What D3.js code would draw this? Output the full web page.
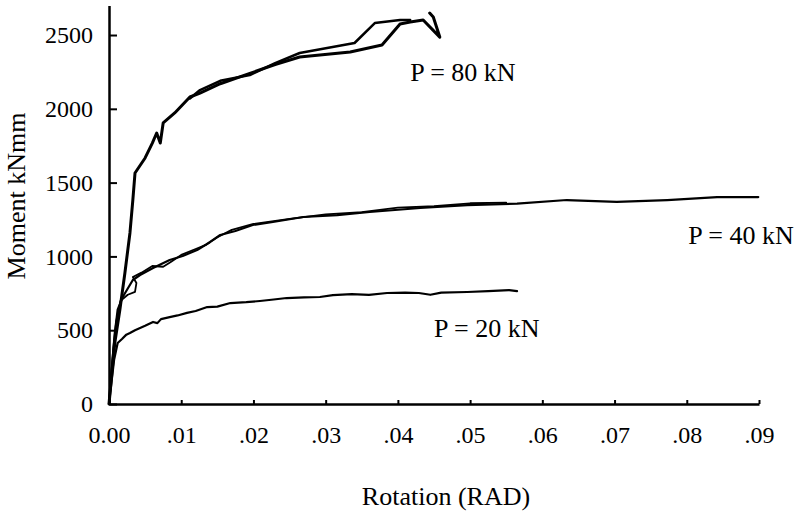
<!doctype html>
<html>
<head>
<style>
  body { margin: 0; background: #fff; }
  text { font-family: "Liberation Serif", "Times New Roman", serif; fill: #000; }
  .axis path, .axis line { stroke: #000; fill: none; }
  .axis path { stroke-width: 2.5; }
  .axis line { stroke-width: 2; }
  .curve { fill: none; stroke: #000; stroke-linejoin: round; stroke-linecap: round; }
</style>
<script src="https://d3js.org/d3.v7.min.js"></script>
</head>
<body>
<svg width="801" height="517"></svg>
<script>
// rotation (rad) / moment (kNmm)
var rot80a = [0, 0.0004, 0.0008, 0.0015, 0.0022, 0.0029, 0.0033, 0.0036, 0.005, 0.006, 0.0066, 0.0071, 0.0075, 0.0091, 0.0112, 0.0126, 0.0154, 0.0195, 0.023, 0.0264, 0.0334, 0.0378, 0.0403, 0.0417, 0.0435, 0.0458, 0.0449, 0.0444];
var mom80a = [0, 210, 413, 637, 888, 1159, 1382, 1565, 1667, 1768, 1836, 1768, 1904, 1972, 2080, 2107, 2170, 2240, 2300, 2351, 2385, 2432, 2575, 2588, 2602, 2486, 2622, 2649];
var rot80b = [0.0112, 0.0126, 0.0154, 0.0195, 0.023, 0.0264, 0.034, 0.0368, 0.0403, 0.0417];
var mom80b = [2070, 2127, 2190, 2229, 2310, 2378, 2446, 2581, 2602, 2602];

var rot40a = [0, 0.0004, 0.0008, 0.0012, 0.0019, 0.0033, 0.0043, 0.0061, 0.0084, 0.0102, 0.0122, 0.014, 0.0154, 0.0175, 0.0199, 0.0227, 0.0269, 0.0316, 0.0361, 0.0431, 0.0496, 0.0565, 0.0634, 0.0703, 0.0773, 0.0842, 0.0899];
var mom40a = [0, 250, 480, 640, 725, 840, 874, 921, 976, 1003, 1043, 1098, 1145, 1172, 1213, 1233, 1267, 1280, 1301, 1328, 1348, 1358, 1382, 1369, 1382, 1402, 1402];
var rot40b = [0, 0.0006, 0.001, 0.0016, 0.0026, 0.0036, 0.0038, 0.0033, 0.0045, 0.006, 0.0075, 0.0085, 0.01, 0.012, 0.0135, 0.015, 0.017, 0.02, 0.025, 0.03, 0.035, 0.04, 0.045, 0.05, 0.055];
var mom40b = [0, 380, 560, 700, 740, 760, 820, 860, 890, 935, 930, 960, 1010, 1050, 1080, 1130, 1180, 1220, 1255, 1285, 1300, 1330, 1340, 1360, 1365];

var rot20 = [0, 0.0003, 0.0007, 0.0012, 0.0018, 0.0024, 0.0029, 0.0036, 0.0043, 0.005, 0.0061, 0.0067, 0.0072, 0.0084, 0.0095, 0.0108, 0.012, 0.0136, 0.015, 0.0168, 0.019, 0.0209, 0.0228, 0.0246, 0.027, 0.0292, 0.031, 0.0336, 0.036, 0.0385, 0.041, 0.0429, 0.0445, 0.046, 0.0496, 0.0525, 0.0554, 0.0565];
var mom20 = [0, 129, 298, 413, 440, 470, 481, 500, 515, 530, 556, 548, 575, 589, 600, 617, 630, 657, 660, 684, 690, 698, 708, 718, 722, 725, 738, 745, 740, 752, 755, 752, 740, 755, 759, 765, 772, 765];

var xTicks = [0, 0.01, 0.02, 0.03, 0.04, 0.05, 0.06, 0.07, 0.08, 0.09];
var yTicks = [0, 500, 1000, 1500, 2000, 2500];

var labelText = ["P = 80 kN", "P = 40 kN", "P = 20 kN"];
var labelRot = [0.0417, 0.0802, 0.045];
var labelMom = [2188, 1084, 454];

var serif = "'Liberation Serif', 'Times New Roman', serif";
var svg = d3.select("svg");

var x = d3.scaleLinear().domain([0, 0.09]).range([109, 759]);
var y = d3.scaleLinear().domain([0, 2700]).range([404, 5.5]);

var xAxis = d3.axisBottom(x)
    .tickValues(xTicks)
    .tickSizeInner(-4)
    .tickSizeOuter(0)
    .tickPadding(22)
    .tickFormat(function(d) { return d === 0 ? "0.00" : d3.format(".2f")(d).replace(/^0/, ""); });

var yAxis = d3.axisLeft(y)
    .tickValues(yTicks)
    .tickSizeInner(-8)
    .tickSizeOuter(0)
    .tickPadding(16)
    .tickFormat(d3.format("d"));

svg.append("g")
    .attr("class", "axis")
    .attr("transform", "translate(0," + y(0) + ")")
    .call(xAxis);

svg.append("g")
    .attr("class", "axis")
    .attr("transform", "translate(" + x(0) + ",0)")
    .call(yAxis);

svg.selectAll(".axis text")
    .style("font-family", serif)
    .style("font-size", "24px")
    .attr("fill", "#000");

var line = d3.line()
    .x(function(d) { return x(d[0]); })
    .y(function(d) { return y(d[1]); });

var curves = [
    [rot80a, mom80a, 3],
    [rot80b, mom80b, 2.5],
    [rot40a, mom40a, 2.2],
    [rot40b, mom40b, 1.8],
    [rot20, mom20, 2.2]
];

curves.forEach(function(c) {
    svg.append("path")
        .attr("class", "curve")
        .attr("stroke-width", c[2])
        .attr("d", line(d3.zip(c[0], c[1])));
});

svg.selectAll(".plabel")
    .data(labelText)
    .enter().append("text")
    .attr("class", "plabel")
    .attr("x", function(d, i) { return x(labelRot[i]); })
    .attr("y", function(d, i) { return y(labelMom[i]); })
    .attr("font-size", "26px")
    .text(function(d) { return d; });

svg.append("text")
    .attr("x", 446)
    .attr("y", 505)
    .attr("text-anchor", "middle")
    .attr("font-size", "26px")
    .text("Rotation (RAD)");

svg.append("text")
    .attr("transform", "translate(25,196) rotate(-90)")
    .attr("text-anchor", "middle")
    .attr("font-size", "26px")
    .text("Moment kNmm");
</script>
</body>
</html>
